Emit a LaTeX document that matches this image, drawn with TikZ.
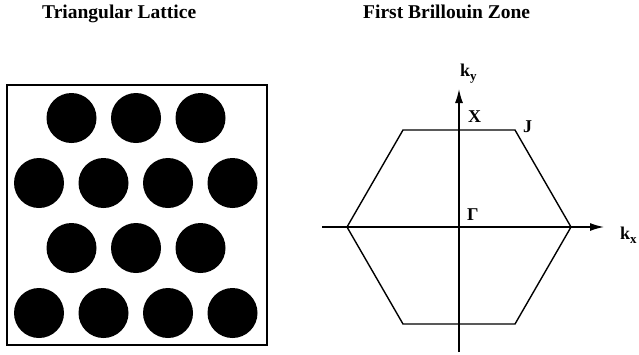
\documentclass[tikz,border=0pt]{standalone}
\usepackage{fontspec}
\setmainfont{Liberation Serif}
\usetikzlibrary{arrows.meta}

\newcommand{\kidx}[1]{\raisebox{-0.5ex}{\fontsize{13}{14}\selectfont #1}}

\begin{document}
\begin{tikzpicture}[x=1pt, y=-1pt, >={Latex[length=14pt,width=8pt]}]
    \tikzstyle{heading} = [font=\fontsize{19.5}{22}\selectfont\bfseries, anchor=base west, inner sep=0pt]
    \tikzstyle{sym} = [font=\fontsize{18}{20}\selectfont\bfseries, anchor=base west, inner sep=0pt]
    \tikzstyle{atom} = [circle, fill=black, minimum size=50pt, inner sep=0pt]
    \tikzstyle{zone} = [line width=1.4pt, line join=miter]
    \tikzstyle{axis} = [line width=1.4pt, ->]

    \useasboundingbox (0,0) rectangle (639,354);

    % titles
    \node[heading] (lattice) at (42,18) {Triangular Lattice};
    \node[heading] (brillouin) at (363,18) {First Brillouin Zone};

    % real space cell
    \node[draw, line width=1.5pt, minimum width=260pt, minimum height=260pt, inner sep=0pt] (cell) at (137,215) {};
    \foreach \i in {0,1,2} {
        \node[atom] (a\i) at (71.5+64.5*\i, 118) {};
        \node[atom] (c\i) at (71.5+64.5*\i, 248) {};
    }
    \foreach \i in {0,1,2,3} {
        \node[atom] (b\i) at (39+64.5*\i, 183) {};
        \node[atom] (d\i) at (39+64.5*\i, 313) {};
    }

    % reciprocal space
    \coordinate (h1) at (347,227);
    \coordinate (h2) at (403,130);
    \coordinate (h3) at (515,130);
    \coordinate (h4) at (571,227);
    \coordinate (h5) at (515,324);
    \coordinate (h6) at (403,324);
    \draw[zone] (h1) -- (h2) -- (h3) -- (h4) -- (h5) -- (h6) -- cycle;

    \coordinate (xl) at (322,227);
    \coordinate (xr) at (604,227);
    \coordinate (yb) at (459,352);
    \coordinate (yt) at (459,89);
    \draw[axis] (xl) -- (xr);
    \draw[axis] (yb) -- (yt);

    \node[sym] (ky) at (460,76) {k\kidx{y}};
    \node[sym] (kx) at (620,239) {k\kidx{x}};
    \node[sym] (X) at (468,122) {X};
    \node[sym] (J) at (523,132) {J};
    \node[sym] (G) at (467,220) {Γ};
\end{tikzpicture}
\end{document}
